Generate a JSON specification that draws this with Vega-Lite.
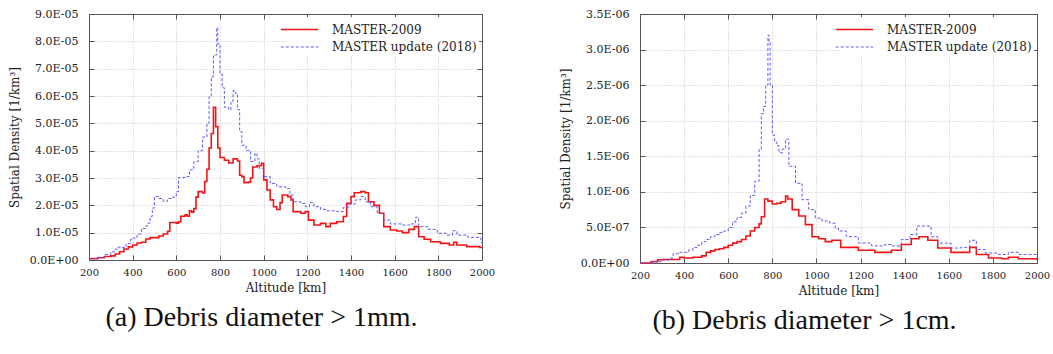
{
  "$schema": "https://vega.github.io/schema/vega-lite/v6.json",
  "padding": {"left": 8, "top": 8, "right": 3, "bottom": 3},
  "spacing": 64,
  "datasets": {
    "a": [
      {"alt":200,"model":"MASTER-2009","density":0.05e-5},
      {"alt":240,"model":"MASTER-2009","density":0.08e-5},
      {"alt":270,"model":"MASTER-2009","density":0.13e-5},
      {"alt":300,"model":"MASTER-2009","density":0.15e-5},
      {"alt":320,"model":"MASTER-2009","density":0.22e-5},
      {"alt":340,"model":"MASTER-2009","density":0.3e-5},
      {"alt":360,"model":"MASTER-2009","density":0.4e-5},
      {"alt":380,"model":"MASTER-2009","density":0.48e-5},
      {"alt":400,"model":"MASTER-2009","density":0.55e-5},
      {"alt":420,"model":"MASTER-2009","density":0.62e-5},
      {"alt":440,"model":"MASTER-2009","density":0.65e-5},
      {"alt":460,"model":"MASTER-2009","density":0.77e-5},
      {"alt":480,"model":"MASTER-2009","density":0.82e-5},
      {"alt":500,"model":"MASTER-2009","density":0.82e-5},
      {"alt":520,"model":"MASTER-2009","density":0.88e-5},
      {"alt":540,"model":"MASTER-2009","density":0.95e-5},
      {"alt":560,"model":"MASTER-2009","density":1.05e-5},
      {"alt":570,"model":"MASTER-2009","density":1.37e-5},
      {"alt":600,"model":"MASTER-2009","density":1.35e-5},
      {"alt":610,"model":"MASTER-2009","density":1.4e-5},
      {"alt":620,"model":"MASTER-2009","density":1.6e-5},
      {"alt":640,"model":"MASTER-2009","density":1.65e-5},
      {"alt":650,"model":"MASTER-2009","density":1.6e-5},
      {"alt":660,"model":"MASTER-2009","density":1.8e-5},
      {"alt":670,"model":"MASTER-2009","density":1.75e-5},
      {"alt":680,"model":"MASTER-2009","density":1.88e-5},
      {"alt":690,"model":"MASTER-2009","density":2.3e-5},
      {"alt":700,"model":"MASTER-2009","density":2.5e-5},
      {"alt":720,"model":"MASTER-2009","density":2.45e-5},
      {"alt":730,"model":"MASTER-2009","density":2.87e-5},
      {"alt":740,"model":"MASTER-2009","density":3.32e-5},
      {"alt":750,"model":"MASTER-2009","density":4.1e-5},
      {"alt":760,"model":"MASTER-2009","density":4.63e-5},
      {"alt":770,"model":"MASTER-2009","density":5.59e-5},
      {"alt":780,"model":"MASTER-2009","density":4.88e-5},
      {"alt":790,"model":"MASTER-2009","density":4.1e-5},
      {"alt":800,"model":"MASTER-2009","density":3.75e-5},
      {"alt":820,"model":"MASTER-2009","density":3.65e-5},
      {"alt":840,"model":"MASTER-2009","density":3.55e-5},
      {"alt":860,"model":"MASTER-2009","density":3.7e-5},
      {"alt":880,"model":"MASTER-2009","density":3.62e-5},
      {"alt":890,"model":"MASTER-2009","density":3.1e-5},
      {"alt":900,"model":"MASTER-2009","density":3.05e-5},
      {"alt":910,"model":"MASTER-2009","density":2.83e-5},
      {"alt":930,"model":"MASTER-2009","density":2.85e-5},
      {"alt":940,"model":"MASTER-2009","density":3.0e-5},
      {"alt":950,"model":"MASTER-2009","density":3.4e-5},
      {"alt":970,"model":"MASTER-2009","density":3.45e-5},
      {"alt":990,"model":"MASTER-2009","density":3.54e-5},
      {"alt":1000,"model":"MASTER-2009","density":2.93e-5},
      {"alt":1015,"model":"MASTER-2009","density":2.56e-5},
      {"alt":1030,"model":"MASTER-2009","density":2.2e-5},
      {"alt":1045,"model":"MASTER-2009","density":1.95e-5},
      {"alt":1060,"model":"MASTER-2009","density":1.85e-5},
      {"alt":1075,"model":"MASTER-2009","density":2.1e-5},
      {"alt":1085,"model":"MASTER-2009","density":2.38e-5},
      {"alt":1110,"model":"MASTER-2009","density":2.32e-5},
      {"alt":1125,"model":"MASTER-2009","density":2.2e-5},
      {"alt":1135,"model":"MASTER-2009","density":1.77e-5},
      {"alt":1170,"model":"MASTER-2009","density":1.71e-5},
      {"alt":1190,"model":"MASTER-2009","density":1.77e-5},
      {"alt":1205,"model":"MASTER-2009","density":1.46e-5},
      {"alt":1230,"model":"MASTER-2009","density":1.28e-5},
      {"alt":1260,"model":"MASTER-2009","density":1.34e-5},
      {"alt":1285,"model":"MASTER-2009","density":1.22e-5},
      {"alt":1305,"model":"MASTER-2009","density":1.34e-5},
      {"alt":1335,"model":"MASTER-2009","density":1.4e-5},
      {"alt":1365,"model":"MASTER-2009","density":1.59e-5},
      {"alt":1380,"model":"MASTER-2009","density":2.07e-5},
      {"alt":1400,"model":"MASTER-2009","density":2.32e-5},
      {"alt":1415,"model":"MASTER-2009","density":2.46e-5},
      {"alt":1445,"model":"MASTER-2009","density":2.5e-5},
      {"alt":1465,"model":"MASTER-2009","density":2.46e-5},
      {"alt":1480,"model":"MASTER-2009","density":2.13e-5},
      {"alt":1505,"model":"MASTER-2009","density":2.0e-5},
      {"alt":1530,"model":"MASTER-2009","density":1.71e-5},
      {"alt":1550,"model":"MASTER-2009","density":1.22e-5},
      {"alt":1580,"model":"MASTER-2009","density":1.1e-5},
      {"alt":1610,"model":"MASTER-2009","density":1.06e-5},
      {"alt":1635,"model":"MASTER-2009","density":1.0e-5},
      {"alt":1665,"model":"MASTER-2009","density":1.12e-5},
      {"alt":1690,"model":"MASTER-2009","density":1.22e-5},
      {"alt":1710,"model":"MASTER-2009","density":0.85e-5},
      {"alt":1735,"model":"MASTER-2009","density":0.76e-5},
      {"alt":1765,"model":"MASTER-2009","density":0.67e-5},
      {"alt":1810,"model":"MASTER-2009","density":0.61e-5},
      {"alt":1850,"model":"MASTER-2009","density":0.55e-5},
      {"alt":1870,"model":"MASTER-2009","density":0.65e-5},
      {"alt":1885,"model":"MASTER-2009","density":0.55e-5},
      {"alt":1930,"model":"MASTER-2009","density":0.49e-5},
      {"alt":1990,"model":"MASTER-2009","density":0.46e-5},
      {"alt":2000,"model":"MASTER-2009","density":0.46e-5},
      {"alt":200,"model":"MASTER update (2018)","density":0.05e-5},
      {"alt":240,"model":"MASTER update (2018)","density":0.1e-5},
      {"alt":270,"model":"MASTER update (2018)","density":0.2e-5},
      {"alt":300,"model":"MASTER update (2018)","density":0.3e-5},
      {"alt":320,"model":"MASTER update (2018)","density":0.4e-5},
      {"alt":330,"model":"MASTER update (2018)","density":0.47e-5},
      {"alt":350,"model":"MASTER update (2018)","density":0.45e-5},
      {"alt":370,"model":"MASTER update (2018)","density":0.6e-5},
      {"alt":390,"model":"MASTER update (2018)","density":0.75e-5},
      {"alt":400,"model":"MASTER update (2018)","density":0.8e-5},
      {"alt":420,"model":"MASTER update (2018)","density":0.95e-5},
      {"alt":440,"model":"MASTER update (2018)","density":1.15e-5},
      {"alt":460,"model":"MASTER update (2018)","density":1.25e-5},
      {"alt":470,"model":"MASTER update (2018)","density":1.35e-5},
      {"alt":480,"model":"MASTER update (2018)","density":1.6e-5},
      {"alt":490,"model":"MASTER update (2018)","density":1.9e-5},
      {"alt":500,"model":"MASTER update (2018)","density":2.32e-5},
      {"alt":520,"model":"MASTER update (2018)","density":2.25e-5},
      {"alt":540,"model":"MASTER update (2018)","density":2.15e-5},
      {"alt":560,"model":"MASTER update (2018)","density":2.25e-5},
      {"alt":580,"model":"MASTER update (2018)","density":2.3e-5},
      {"alt":600,"model":"MASTER update (2018)","density":2.5e-5},
      {"alt":610,"model":"MASTER update (2018)","density":3.02e-5},
      {"alt":640,"model":"MASTER update (2018)","density":3.05e-5},
      {"alt":660,"model":"MASTER update (2018)","density":3.3e-5},
      {"alt":680,"model":"MASTER update (2018)","density":3.6e-5},
      {"alt":700,"model":"MASTER update (2018)","density":4.0e-5},
      {"alt":720,"model":"MASTER update (2018)","density":4.5e-5},
      {"alt":740,"model":"MASTER update (2018)","density":5.0e-5},
      {"alt":750,"model":"MASTER update (2018)","density":5.98e-5},
      {"alt":760,"model":"MASTER update (2018)","density":6.7e-5},
      {"alt":770,"model":"MASTER update (2018)","density":7.5e-5},
      {"alt":785,"model":"MASTER update (2018)","density":8.5e-5},
      {"alt":790,"model":"MASTER update (2018)","density":7.9e-5},
      {"alt":800,"model":"MASTER update (2018)","density":6.8e-5},
      {"alt":810,"model":"MASTER update (2018)","density":6.3e-5},
      {"alt":820,"model":"MASTER update (2018)","density":5.59e-5},
      {"alt":840,"model":"MASTER update (2018)","density":5.5e-5},
      {"alt":850,"model":"MASTER update (2018)","density":5.8e-5},
      {"alt":860,"model":"MASTER update (2018)","density":6.2e-5},
      {"alt":870,"model":"MASTER update (2018)","density":6.1e-5},
      {"alt":880,"model":"MASTER update (2018)","density":5.5e-5},
      {"alt":890,"model":"MASTER update (2018)","density":4.7e-5},
      {"alt":900,"model":"MASTER update (2018)","density":4.2e-5},
      {"alt":920,"model":"MASTER update (2018)","density":4.0e-5},
      {"alt":940,"model":"MASTER update (2018)","density":3.6e-5},
      {"alt":960,"model":"MASTER update (2018)","density":3.9e-5},
      {"alt":970,"model":"MASTER update (2018)","density":3.7e-5},
      {"alt":980,"model":"MASTER update (2018)","density":3.35e-5},
      {"alt":1000,"model":"MASTER update (2018)","density":3.05e-5},
      {"alt":1030,"model":"MASTER update (2018)","density":2.8e-5},
      {"alt":1060,"model":"MASTER update (2018)","density":2.68e-5},
      {"alt":1100,"model":"MASTER update (2018)","density":2.62e-5},
      {"alt":1120,"model":"MASTER update (2018)","density":2.38e-5},
      {"alt":1135,"model":"MASTER update (2018)","density":2.13e-5},
      {"alt":1170,"model":"MASTER update (2018)","density":2.07e-5},
      {"alt":1190,"model":"MASTER update (2018)","density":1.95e-5},
      {"alt":1210,"model":"MASTER update (2018)","density":2.1e-5},
      {"alt":1230,"model":"MASTER update (2018)","density":1.95e-5},
      {"alt":1260,"model":"MASTER update (2018)","density":1.85e-5},
      {"alt":1290,"model":"MASTER update (2018)","density":1.8e-5},
      {"alt":1335,"model":"MASTER update (2018)","density":1.77e-5},
      {"alt":1365,"model":"MASTER update (2018)","density":1.93e-5},
      {"alt":1390,"model":"MASTER update (2018)","density":2.05e-5},
      {"alt":1420,"model":"MASTER update (2018)","density":2.2e-5},
      {"alt":1445,"model":"MASTER update (2018)","density":2.32e-5},
      {"alt":1465,"model":"MASTER update (2018)","density":2.13e-5},
      {"alt":1490,"model":"MASTER update (2018)","density":1.95e-5},
      {"alt":1520,"model":"MASTER update (2018)","density":1.71e-5},
      {"alt":1550,"model":"MASTER update (2018)","density":1.46e-5},
      {"alt":1580,"model":"MASTER update (2018)","density":1.32e-5},
      {"alt":1630,"model":"MASTER update (2018)","density":1.28e-5},
      {"alt":1675,"model":"MASTER update (2018)","density":1.32e-5},
      {"alt":1695,"model":"MASTER update (2018)","density":1.56e-5},
      {"alt":1710,"model":"MASTER update (2018)","density":1.22e-5},
      {"alt":1750,"model":"MASTER update (2018)","density":1.12e-5},
      {"alt":1795,"model":"MASTER update (2018)","density":0.98e-5},
      {"alt":1835,"model":"MASTER update (2018)","density":0.91e-5},
      {"alt":1865,"model":"MASTER update (2018)","density":1.07e-5},
      {"alt":1885,"model":"MASTER update (2018)","density":0.91e-5},
      {"alt":1935,"model":"MASTER update (2018)","density":0.83e-5},
      {"alt":1995,"model":"MASTER update (2018)","density":0.63e-5},
      {"alt":2000,"model":"MASTER update (2018)","density":0.63e-5}
    ],
    "b": [
      {"alt":200,"model":"MASTER-2009","density":0.0},
      {"alt":250,"model":"MASTER-2009","density":0.02e-6},
      {"alt":280,"model":"MASTER-2009","density":0.045e-6},
      {"alt":300,"model":"MASTER-2009","density":0.05e-6},
      {"alt":340,"model":"MASTER-2009","density":0.05e-6},
      {"alt":380,"model":"MASTER-2009","density":0.08e-6},
      {"alt":400,"model":"MASTER-2009","density":0.07e-6},
      {"alt":440,"model":"MASTER-2009","density":0.08e-6},
      {"alt":480,"model":"MASTER-2009","density":0.1e-6},
      {"alt":500,"model":"MASTER-2009","density":0.15e-6},
      {"alt":520,"model":"MASTER-2009","density":0.17e-6},
      {"alt":540,"model":"MASTER-2009","density":0.19e-6},
      {"alt":560,"model":"MASTER-2009","density":0.2e-6},
      {"alt":580,"model":"MASTER-2009","density":0.22e-6},
      {"alt":600,"model":"MASTER-2009","density":0.25e-6},
      {"alt":620,"model":"MASTER-2009","density":0.28e-6},
      {"alt":640,"model":"MASTER-2009","density":0.3e-6},
      {"alt":660,"model":"MASTER-2009","density":0.33e-6},
      {"alt":680,"model":"MASTER-2009","density":0.38e-6},
      {"alt":700,"model":"MASTER-2009","density":0.45e-6},
      {"alt":720,"model":"MASTER-2009","density":0.5e-6},
      {"alt":740,"model":"MASTER-2009","density":0.55e-6},
      {"alt":750,"model":"MASTER-2009","density":0.65e-6},
      {"alt":765,"model":"MASTER-2009","density":0.9e-6},
      {"alt":780,"model":"MASTER-2009","density":0.87e-6},
      {"alt":800,"model":"MASTER-2009","density":0.83e-6},
      {"alt":820,"model":"MASTER-2009","density":0.84e-6},
      {"alt":840,"model":"MASTER-2009","density":0.86e-6},
      {"alt":860,"model":"MASTER-2009","density":0.94e-6},
      {"alt":870,"model":"MASTER-2009","density":0.9e-6},
      {"alt":890,"model":"MASTER-2009","density":0.75e-6},
      {"alt":920,"model":"MASTER-2009","density":0.66e-6},
      {"alt":950,"model":"MASTER-2009","density":0.54e-6},
      {"alt":980,"model":"MASTER-2009","density":0.37e-6},
      {"alt":1010,"model":"MASTER-2009","density":0.34e-6},
      {"alt":1040,"model":"MASTER-2009","density":0.3e-6},
      {"alt":1070,"model":"MASTER-2009","density":0.32e-6},
      {"alt":1110,"model":"MASTER-2009","density":0.22e-6},
      {"alt":1190,"model":"MASTER-2009","density":0.18e-6},
      {"alt":1265,"model":"MASTER-2009","density":0.15e-6},
      {"alt":1340,"model":"MASTER-2009","density":0.18e-6},
      {"alt":1385,"model":"MASTER-2009","density":0.26e-6},
      {"alt":1430,"model":"MASTER-2009","density":0.34e-6},
      {"alt":1465,"model":"MASTER-2009","density":0.37e-6},
      {"alt":1505,"model":"MASTER-2009","density":0.32e-6},
      {"alt":1550,"model":"MASTER-2009","density":0.21e-6},
      {"alt":1610,"model":"MASTER-2009","density":0.15e-6},
      {"alt":1655,"model":"MASTER-2009","density":0.15e-6},
      {"alt":1695,"model":"MASTER-2009","density":0.22e-6},
      {"alt":1725,"model":"MASTER-2009","density":0.12e-6},
      {"alt":1780,"model":"MASTER-2009","density":0.07e-6},
      {"alt":1840,"model":"MASTER-2009","density":0.06e-6},
      {"alt":1870,"model":"MASTER-2009","density":0.08e-6},
      {"alt":1915,"model":"MASTER-2009","density":0.06e-6},
      {"alt":2000,"model":"MASTER-2009","density":0.04e-6},
      {"alt":200,"model":"MASTER update (2018)","density":0.0},
      {"alt":260,"model":"MASTER update (2018)","density":0.02e-6},
      {"alt":300,"model":"MASTER update (2018)","density":0.04e-6},
      {"alt":330,"model":"MASTER update (2018)","density":0.07e-6},
      {"alt":350,"model":"MASTER update (2018)","density":0.13e-6},
      {"alt":380,"model":"MASTER update (2018)","density":0.15e-6},
      {"alt":420,"model":"MASTER update (2018)","density":0.18e-6},
      {"alt":440,"model":"MASTER update (2018)","density":0.22e-6},
      {"alt":460,"model":"MASTER update (2018)","density":0.25e-6},
      {"alt":480,"model":"MASTER update (2018)","density":0.3e-6},
      {"alt":500,"model":"MASTER update (2018)","density":0.33e-6},
      {"alt":520,"model":"MASTER update (2018)","density":0.37e-6},
      {"alt":540,"model":"MASTER update (2018)","density":0.4e-6},
      {"alt":560,"model":"MASTER update (2018)","density":0.43e-6},
      {"alt":580,"model":"MASTER update (2018)","density":0.45e-6},
      {"alt":600,"model":"MASTER update (2018)","density":0.5e-6},
      {"alt":620,"model":"MASTER update (2018)","density":0.58e-6},
      {"alt":640,"model":"MASTER update (2018)","density":0.64e-6},
      {"alt":660,"model":"MASTER update (2018)","density":0.7e-6},
      {"alt":680,"model":"MASTER update (2018)","density":0.8e-6},
      {"alt":700,"model":"MASTER update (2018)","density":0.95e-6},
      {"alt":720,"model":"MASTER update (2018)","density":1.15e-6},
      {"alt":740,"model":"MASTER update (2018)","density":1.6e-6},
      {"alt":750,"model":"MASTER update (2018)","density":2.1e-6},
      {"alt":760,"model":"MASTER update (2018)","density":2.2e-6},
      {"alt":770,"model":"MASTER update (2018)","density":2.5e-6},
      {"alt":780,"model":"MASTER update (2018)","density":3.2e-6},
      {"alt":785,"model":"MASTER update (2018)","density":3.1e-6},
      {"alt":790,"model":"MASTER update (2018)","density":2.5e-6},
      {"alt":800,"model":"MASTER update (2018)","density":1.8e-6},
      {"alt":810,"model":"MASTER update (2018)","density":1.7e-6},
      {"alt":820,"model":"MASTER update (2018)","density":1.65e-6},
      {"alt":830,"model":"MASTER update (2018)","density":1.55e-6},
      {"alt":845,"model":"MASTER update (2018)","density":1.6e-6},
      {"alt":860,"model":"MASTER update (2018)","density":1.74e-6},
      {"alt":875,"model":"MASTER update (2018)","density":1.36e-6},
      {"alt":905,"model":"MASTER update (2018)","density":1.12e-6},
      {"alt":935,"model":"MASTER update (2018)","density":0.89e-6},
      {"alt":965,"model":"MASTER update (2018)","density":0.75e-6},
      {"alt":995,"model":"MASTER update (2018)","density":0.63e-6},
      {"alt":1025,"model":"MASTER update (2018)","density":0.59e-6},
      {"alt":1060,"model":"MASTER update (2018)","density":0.56e-6},
      {"alt":1085,"model":"MASTER update (2018)","density":0.49e-6},
      {"alt":1100,"model":"MASTER update (2018)","density":0.45e-6},
      {"alt":1135,"model":"MASTER update (2018)","density":0.37e-6},
      {"alt":1190,"model":"MASTER update (2018)","density":0.28e-6},
      {"alt":1250,"model":"MASTER update (2018)","density":0.24e-6},
      {"alt":1310,"model":"MASTER update (2018)","density":0.26e-6},
      {"alt":1340,"model":"MASTER update (2018)","density":0.24e-6},
      {"alt":1385,"model":"MASTER update (2018)","density":0.33e-6},
      {"alt":1425,"model":"MASTER update (2018)","density":0.4e-6},
      {"alt":1455,"model":"MASTER update (2018)","density":0.52e-6},
      {"alt":1485,"model":"MASTER update (2018)","density":0.52e-6},
      {"alt":1520,"model":"MASTER update (2018)","density":0.37e-6},
      {"alt":1550,"model":"MASTER update (2018)","density":0.28e-6},
      {"alt":1610,"model":"MASTER update (2018)","density":0.21e-6},
      {"alt":1655,"model":"MASTER update (2018)","density":0.22e-6},
      {"alt":1695,"model":"MASTER update (2018)","density":0.32e-6},
      {"alt":1725,"model":"MASTER update (2018)","density":0.19e-6},
      {"alt":1765,"model":"MASTER update (2018)","density":0.14e-6},
      {"alt":1825,"model":"MASTER update (2018)","density":0.12e-6},
      {"alt":1870,"model":"MASTER update (2018)","density":0.15e-6},
      {"alt":1915,"model":"MASTER update (2018)","density":0.12e-6},
      {"alt":2000,"model":"MASTER update (2018)","density":0.09e-6}
    ]
  },
  "hconcat": [
    {
      "data": {"name": "a"},
      "width": 393,
      "height": 246,
      "title": {"text": "(a) Debris diameter > 1mm.", "dx": -24},
      "layer": [
        {
          "mark": {"type": "line", "interpolate": "step-after"},
          "encoding": {
            "x": {"field": "alt", "type": "quantitative", "scale": {"domain": [200, 2000], "nice": false},
                  "axis": {"title": "Altitude [km]", "format": "d", "values": [200,400,600,800,1000,1200,1400,1600,1800,2000]}},
            "y": {"field": "density", "type": "quantitative", "scale": {"domain": [0, 9e-5], "nice": false},
                  "axis": {"title": "Spatial Density [1/km³]", "values": [0,1e-5,2e-5,3e-5,4e-5,5e-5,6e-5,7e-5,8e-5,9e-5],
                           "labelExpr": "replace(replace(format(datum.value, '.1e'), 'e-', 'E-0'), 'e+', 'E+0')"}},
            "color": {"field": "model", "type": "nominal", "sort": null,
                      "scale": {"domain": ["MASTER-2009", "MASTER update (2018)"], "range": ["#f21414", "#5c5cf5"]}},
            "strokeDash": {"field": "model", "type": "nominal", "sort": null,
                      "scale": {"domain": ["MASTER-2009", "MASTER update (2018)"], "range": [[1, 0], [3, 2]]}},
            "strokeWidth": {"field": "model", "type": "nominal", "sort": null,
                      "scale": {"domain": ["MASTER-2009", "MASTER update (2018)"], "range": [1.6, 1]}}
          }
        },
        {
          "mark": {"type": "line", "opacity": 0},
          "encoding": {
            "x": {"field": "alt", "type": "quantitative",
                  "axis": {"orient": "top", "title": null, "labels": false, "grid": false, "values": [200,400,600,800,1000,1200,1400,1600,1800,2000]}},
            "y": {"field": "density", "type": "quantitative",
                  "axis": {"orient": "right", "title": null, "labels": false, "grid": false, "values": [0,1e-5,2e-5,3e-5,4e-5,5e-5,6e-5,7e-5,8e-5,9e-5]}},
            "detail": {"field": "model"}
          }
        }
      ],
      "resolve": {"axis": {"x": "independent", "y": "independent"}}
    },
    {
      "data": {"name": "b"},
      "width": 397,
      "height": 249,
      "title": {"text": "(b) Debris diameter > 1cm.", "dx": -34},
      "layer": [
        {
          "mark": {"type": "line", "interpolate": "step-after"},
          "encoding": {
            "x": {"field": "alt", "type": "quantitative", "scale": {"domain": [200, 2000], "nice": false},
                  "axis": {"title": "Altitude [km]", "format": "d", "values": [200,400,600,800,1000,1200,1400,1600,1800,2000]}},
            "y": {"field": "density", "type": "quantitative", "scale": {"domain": [0, 3.5e-6], "nice": false},
                  "axis": {"title": "Spatial Density [1/km³]", "values": [0,5e-7,1e-6,1.5e-6,2e-6,2.5e-6,3e-6,3.5e-6],
                           "labelExpr": "replace(replace(format(datum.value, '.1e'), 'e-', 'E-0'), 'e+', 'E+0')"}},
            "color": {"field": "model", "type": "nominal", "sort": null,
                      "scale": {"domain": ["MASTER-2009", "MASTER update (2018)"], "range": ["#f21414", "#5c5cf5"]}},
            "strokeDash": {"field": "model", "type": "nominal", "sort": null,
                      "scale": {"domain": ["MASTER-2009", "MASTER update (2018)"], "range": [[1, 0], [3, 2]]}},
            "strokeWidth": {"field": "model", "type": "nominal", "sort": null,
                      "scale": {"domain": ["MASTER-2009", "MASTER update (2018)"], "range": [1.6, 1]}}
          }
        },
        {
          "mark": {"type": "line", "opacity": 0},
          "encoding": {
            "x": {"field": "alt", "type": "quantitative",
                  "axis": {"orient": "top", "title": null, "labels": false, "grid": false, "values": [200,400,600,800,1000,1200,1400,1600,1800,2000]}},
            "y": {"field": "density", "type": "quantitative",
                  "axis": {"orient": "right", "title": null, "labels": false, "grid": false, "values": [0,5e-7,1e-6,1.5e-6,2e-6,2.5e-6,3e-6,3.5e-6]}},
            "detail": {"field": "model"}
          }
        }
      ],
      "resolve": {"axis": {"x": "independent", "y": "independent"}}
    }
  ],
  "resolve": {"scale": {"color": "independent", "strokeDash": "independent", "strokeWidth": "independent"}},
  "config": {
    "background": "white",
    "font": "DejaVu Serif, serif",
    "view": {"stroke": null},
    "axis": {
      "labelFont": "DejaVu Serif, serif", "labelFontSize": 11, "labelColor": "#222", "labelOverlap": false,
      "titleFont": "DejaVu Serif, serif", "titleFontSize": 12, "titleFontWeight": "normal", "titleColor": "#222",
      "domainColor": "#555", "domainWidth": 1, "tickColor": "#555", "tickSize": -5, "labelPadding": 16,
      "gridColor": "#c4c4c4", "gridDash": [1, 2], "gridWidth": 1, "titlePadding": 5
    },
    "axisX": {"labelPadding": 12, "labelFlush": false, "labelFontSize": 10},
    "axisY": {"titlePadding": 8},
    "legend": {
      "orient": "top-right", "title": null, "offset": 3, "padding": 2, "fillColor": "white",
      "labelFont": "DejaVu Serif, serif", "labelFontSize": 12, "labelColor": "#222", "labelOffset": 22,
      "symbolType": "M-2,0H2", "symbolSize": 350, "rowPadding": 1
    },
    "title": {
      "orient": "bottom", "font": "Liberation Serif, serif", "fontSize": 28, "fontWeight": "normal",
      "color": "#111", "offset": 11, "anchor": "middle"
    }
  }
}
